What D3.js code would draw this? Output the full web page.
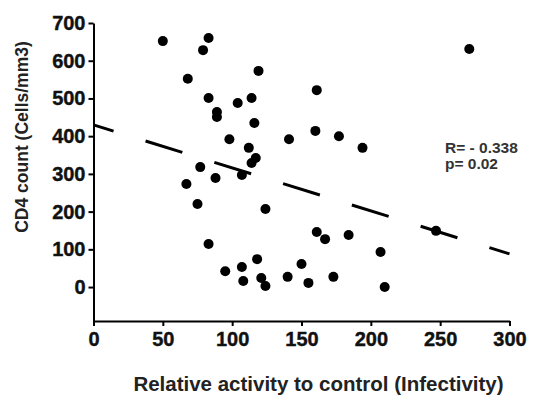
<!DOCTYPE html>
<html>
<head>
<meta charset="utf-8">
<script src="https://cdn.jsdelivr.net/npm/d3@7"></script>
<style>
    body { margin: 0; background: #fff; }
    svg { display: block; font-family: "Liberation Sans", Arial, sans-serif; font-weight: bold; }
</style>
</head>
<body>
<div id="wrapper"></div>
<script>
// values
const activity = [50, 83, 79, 68, 119, 83, 104, 114, 89, 89, 116, 98, 112, 117, 114, 77, 88, 107, 67, 75,
    124, 83, 118, 95, 107, 108, 121, 124, 141, 160, 177, 194, 161, 271, 161, 167, 184, 207, 247, 150,
    140, 155, 173, 210]
const cd4 = [652, 660, 628, 552, 573, 501, 488, 501, 464, 451, 435, 392, 369, 342, 329, 318, 289, 297, 273, 220,
    207, 114, 74, 42, 53, 16, 24, 3, 392, 414, 400, 369, 522, 631, 146, 127, 138, 93, 149, 61,
    27, 11, 27, 0]
const xTicks = [0, 50, 100, 150, 200, 250, 300]
const yTicks = [0, 100, 200, 300, 400, 500, 600, 700]
const fitX = [0, 300]
const fitY = [430, 88]
const statLines = ['R= - 0.338', 'p= 0.02']

function scatterPlot() {
    const points = activity.map((d, i) => ({ x: d, y: cd4[i] }))
    const xAcc = d => d.x
    const yAcc = d => d.y

    let dimensions = {
        width: 533,
        height: 401,
        left: 93.5,
        right: 509.5,
        top: 23,
        bottom: 321
    }

    const svg = d3.select('#wrapper').append('svg')
        .attr('width', dimensions.width)
        .attr('height', dimensions.height)

    const xScale = d3.scaleLinear()
        .domain([0, 300])
        .range([dimensions.left, dimensions.right])

    const yScale = d3.scaleLinear()
        .domain([-90, 700])
        .range([dimensions.bottom, dimensions.top])

    // axes
    const xAxis = d3.axisBottom(xScale)
        .tickValues(xTicks)
        .tickSize(5)
        .tickSizeOuter(0)
        .tickPadding(6)
    const yAxis = d3.axisLeft(yScale)
        .tickValues(yTicks)
        .tickSize(5)
        .tickSizeOuter(0)
        .tickPadding(3)

    svg.append('g')
        .attr('transform', `translate(0, ${dimensions.bottom})`)
        .call(xAxis)
    svg.append('g')
        .attr('transform', `translate(${dimensions.left}, 0)`)
        .call(yAxis)

    svg.selectAll('.domain, .tick line')
        .attr('stroke', '#000')
        .attr('stroke-width', 2)
    svg.selectAll('.tick text')
        .attr('fill', '#111')
        .attr('stroke', '#111')
        .attr('stroke-width', 0.4)
        .style('font-size', '20px')
        .style('font-family', '"Liberation Sans", Arial, sans-serif')
        .style('font-weight', 'bold')

    // dashed regression line
    const line = d3.line()
        .x(d => xScale(d[0]))
        .y(d => yScale(d[1]))
    svg.append('path')
        .datum(fitX.map((d, i) => [d, fitY[i]]))
        .attr('d', line)
        .attr('fill', 'none')
        .attr('stroke', '#000')
        .attr('stroke-width', 3)
        .attr('stroke-dasharray', '38.5 33.5')
        .attr('stroke-dashoffset', 17.5)

    // points
    svg.append('g').selectAll('circle')
        .data(points)
        .enter()
        .append('circle')
        .attr('cx', d => xScale(xAcc(d)))
        .attr('cy', d => yScale(yAcc(d)))
        .attr('r', 5)
        .attr('fill', '#000')

    // stats
    svg.append('g').selectAll('text')
        .data(statLines)
        .enter()
        .append('text')
        .attr('x', 445)
        .attr('y', (d, i) => 153 + i * 16)
        .attr('fill', '#333')
        .style('font-size', '15.5px')
        .text(d => d)

    // axis titles
    svg.append('text')
        .attr('x', 318.5)
        .attr('y', 391)
        .attr('text-anchor', 'middle')
        .attr('fill', '#222')
        .style('font-size', '20.5px')
        .text('Relative activity to control (Infectivity)')

    svg.append('text')
        .attr('transform', 'translate(28, 137) rotate(-90)')
        .attr('text-anchor', 'middle')
        .attr('fill', '#222')
        .style('font-size', '17.5px')
        .text('CD4 count (Cells/mm3)')
}

scatterPlot()
</script>
</body>
</html>
